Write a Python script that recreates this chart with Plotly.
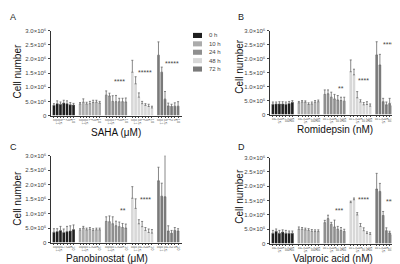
import plotly.graph_objects as go

W, H = 400, 264

times = ["0 h", "10 h", "24 h", "48 h", "72 h"]
colors = ["#1f1f1f", "#ababab", "#8f8f8f", "#d8d8d8", "#7a7a7a"]
panel_letters = ["A", "B", "C", "D"]
x_titles = ["SAHA (μM)", "Romidepsin (nM)", "Panobinostat (μM)", "Valproic acid (nM)"]
conc_labels = [
    ["0", "0.1", "0.5", "1", "2", "5", "10"],
    ["0", "1", "2.5", "5", "10", "25", "50"],
    ["0", "0.1", "0.5", "1", "2", "5", "10"],
    ["0", "1", "2.5", "5", "10", "25", "50"],
]
y_tickvals = [0, 0.5, 1.0, 1.5, 2.0, 2.5, 3.0]
y_ticktext = ["0", "5.0×10⁵", "1.0×10⁶", "1.5×10⁶", "2.0×10⁶", "2.5×10⁶", "3.0×10⁶"]

# Cell number (x10^6) per panel -> per time point -> per concentration
A_mean = [
    [0.36, 0.42, 0.40, 0.44, 0.42, 0.38, 0.37],
    [0.41, 0.47, 0.41, 0.42, 0.46, 0.47, 0.44],
    [0.72, 0.69, 0.50, 0.49, 0.49, 0.49, 0.48],
    [1.53, 1.12, 0.65, 0.42, 0.36, 0.32, 0.27],
    [2.13, 1.53, 0.58, 0.34, 0.32, 0.33, 0.33],
]
A_err = [
    [0.06, 0.10, 0.08, 0.10, 0.10, 0.08, 0.06],
    [0.05, 0.12, 0.06, 0.08, 0.08, 0.07, 0.06],
    [0.15, 0.10, 0.20, 0.22, 0.12, 0.12, 0.14],
    [0.42, 0.25, 0.15, 0.08, 0.06, 0.08, 0.06],
    [0.47, 0.18, 0.27, 0.10, 0.08, 0.12, 0.16],
]
B_mean = [
    [0.37, 0.38, 0.38, 0.38, 0.37, 0.40, 0.44],
    [0.42, 0.45, 0.44, 0.36, 0.38, 0.44, 0.46],
    [0.72, 0.74, 0.62, 0.56, 0.52, 0.50, 0.48],
    [1.53, 1.42, 0.60, 0.45, 0.35, 0.36, 0.30],
    [2.13, 1.77, 0.46, 0.35, 0.40, 0.32, 0.30],
]
B_err = [
    [0.08, 0.07, 0.08, 0.08, 0.08, 0.07, 0.06],
    [0.05, 0.05, 0.05, 0.06, 0.07, 0.06, 0.06],
    [0.16, 0.14, 0.18, 0.16, 0.16, 0.12, 0.14],
    [0.42, 0.20, 0.22, 0.08, 0.08, 0.10, 0.08],
    [0.47, 0.38, 0.12, 0.10, 0.18, 0.10, 0.08],
]
C_mean = [
    [0.36, 0.38, 0.42, 0.35, 0.38, 0.40, 0.45],
    [0.43, 0.50, 0.44, 0.46, 0.42, 0.44, 0.44],
    [0.73, 0.72, 0.65, 0.58, 0.55, 0.52, 0.50],
    [1.53, 1.18, 0.65, 0.55, 0.42, 0.35, 0.33],
    [2.13, 1.60, 1.58, 0.40, 0.32, 0.42, 0.40],
]
C_err = [
    [0.12, 0.10, 0.14, 0.12, 0.18, 0.18, 0.16],
    [0.05, 0.06, 0.06, 0.06, 0.06, 0.06, 0.06],
    [0.16, 0.20, 0.24, 0.16, 0.16, 0.14, 0.14],
    [0.40, 0.33, 0.14, 0.18, 0.10, 0.12, 0.12],
    [0.47, 0.45, 1.42, 0.18, 0.10, 0.10, 0.08],
]
D_mean = [
    [0.36, 0.43, 0.36, 0.40, 0.36, 0.36, 0.36],
    [0.50, 0.50, 0.48, 0.46, 0.43, 0.42, 0.42],
    [0.73, 0.87, 0.67, 0.58, 0.50, 0.46, 0.42],
    [1.43, 1.53, 1.00, 0.60, 0.45, 0.35, 0.32],
    [1.90, 1.82, 0.98, 0.45, 0.37, 0.31, 0.30],
]
D_err = [
    [0.10, 0.08, 0.10, 0.08, 0.10, 0.08, 0.08],
    [0.08, 0.06, 0.06, 0.06, 0.06, 0.06, 0.06],
    [0.08, 0.12, 0.07, 0.24, 0.10, 0.10, 0.08],
    [0.05, 0.06, 0.08, 0.10, 0.10, 0.06, 0.06],
    [0.55, 0.28, 0.14, 0.10, 0.06, 0.04, 0.04],
]
means = [A_mean, B_mean, C_mean, D_mean]
errs = [A_err, B_err, C_err, D_err]

# significance stars: (time index, first bar, last bar, height x10^6, text)
stars = [
    [(2, 2, 6, 1.20, "****"), (3, 2, 6, 1.52, "*****"), (4, 2, 6, 1.85, "*****")],
    [(2, 4, 6, 0.94, "**"), (3, 2, 6, 1.20, "****"), (4, 2, 6, 2.50, "*****")],
    [(2, 4, 6, 1.12, "**"), (3, 2, 6, 1.48, "****"), (4, 2, 6, 3.02, "*****")],
    [(2, 3, 6, 1.14, "***"), (3, 2, 6, 1.54, "****"), (4, 3, 6, 1.46, "****")],
]

# layout in pixels: (left, right, top, bottom) of plot areas
areas = [(43, 174, 20, 107), (262, 392, 20, 106), (43, 174, 148, 237), (262, 392, 150, 238)]
ytitle_pos = [(10, 62), (232, 56), (10, 192), (232, 189)]
xtitle_pos = [(108, 124), (327, 121), (99, 253), (325, 253)]
letter_pos = [(5, 6), (233, 6), (5, 139), (233, 139)]

NC = 7
GAP = 1
def xpos(g, i):
    return g * (NC + GAP) + i

fig = go.Figure()
layout = dict(width=W, height=H, margin=dict(l=0, r=0, t=0, b=0),
              paper_bgcolor="white", plot_bgcolor="white", showlegend=False,
              font=dict(family="Liberation Sans, Arial", color="#333"))
annotations = []
shapes = []
BAR_W = 0.8

for p in range(4):
    sfx = "" if p == 0 else str(p + 1)
    xa, ya = "x" + sfx, "y" + sfx
    for g, t in enumerate(times):
        xs = [xpos(g, i) for i in range(NC)]
        fig.add_trace(go.Bar(
            x=xs, y=means[p][g], name=t, width=BAR_W,
            marker=dict(color=colors[g], line=dict(width=0)),
            error_y=dict(type="data", symmetric=False, array=errs[p][g],
                         arrayminus=[0] * NC, color="#6a6a6a", thickness=0.8, width=1),
            xaxis=xa, yaxis=ya, showlegend=False))
    l, r, t_, b = areas[p]
    tickvals = [xpos(g, i) for g in range(5) for i in range(NC)]
    ticktext = [conc_labels[p][i] for g in range(5) for i in range(NC)]
    layout["xaxis" + sfx] = dict(
        domain=[l / W, r / W], anchor=ya, range=[-0.9, xpos(4, NC - 1) + 1.2],
        tickmode="array", tickvals=tickvals, ticktext=ticktext, tickangle=90,
        tickfont=dict(size=4, color="#555"), ticks="outside", ticklen=1.5,
        tickwidth=0.6, tickcolor="#444", showline=True, linecolor="#333",
        linewidth=1, showgrid=False, zeroline=False, fixedrange=True)
    layout["yaxis" + sfx] = dict(
        domain=[1 - b / H, 1 - t_ / H], anchor=xa, range=[0, 3.0],
        tickmode="array", tickvals=y_tickvals, ticktext=y_ticktext,
        tickfont=dict(size=6, color="#444"), ticks="outside", ticklen=2.5,
        tickwidth=0.8, tickcolor="#444", showline=True, linecolor="#333",
        linewidth=1, showgrid=False, zeroline=False, fixedrange=True)
    for (g, i0, i1, yv, txt) in stars[p]:
        annotations.append(dict(
            x=(xpos(g, i0) + xpos(g, i1)) / 2, y=yv, xref=xa, yref=ya,
            text=txt, showarrow=False, font=dict(size=7, color="#444"),
            xanchor="center", yanchor="middle"))
    tx, ty = ytitle_pos[p]
    annotations.append(dict(x=tx / W, y=1 - ty / H, xref="paper", yref="paper",
                            text="Cell number", textangle=-90, showarrow=False,
                            font=dict(size=10, color="#111"),
                            xanchor="center", yanchor="middle"))
    tx, ty = xtitle_pos[p]
    annotations.append(dict(x=tx / W, y=1 - ty / H, xref="paper", yref="paper",
                            text=x_titles[p], showarrow=False,
                            font=dict(size=10, color="#111"),
                            xanchor="center", yanchor="middle"))
    tx, ty = letter_pos[p]
    annotations.append(dict(x=tx / W, y=1 - ty / H, xref="paper", yref="paper",
                            text=panel_letters[p], showarrow=False,
                            font=dict(size=9, color="#222"),
                            xanchor="center", yanchor="middle"))

# manual legend
LX0, LX1, LY0, LDY = 185, 194, 25, 8.6
for k, t in enumerate(times):
    yc = LY0 + k * LDY
    shapes.append(dict(type="rect", xref="paper", yref="paper",
                       x0=LX0 / W, x1=LX1 / W, y0=1 - (yc + 2.6) / H, y1=1 - (yc - 2.6) / H,
                       fillcolor=colors[k], line=dict(width=0)))
    annotations.append(dict(x=(LX1 + 5) / W, y=1 - yc / H, xref="paper", yref="paper",
                            text=t, showarrow=False, font=dict(size=6, color="#444"),
                            xanchor="left", yanchor="middle"))

layout["annotations"] = annotations
layout["shapes"] = shapes
fig.update_layout(**layout)
fig.write_html("out.html")
